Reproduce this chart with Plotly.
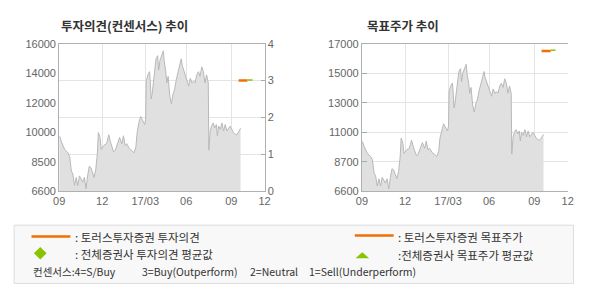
import plotly.graph_objects as go

W, H = 590, 300

# ---- data (trading-day index vs close price) ----
day_idx = [0, 1, 3.4, 8, 12.7, 15.1, 17.5, 19.7, 22.1, 24.5, 26.8, 29.2, 31.6, 33.8, 36.2, 38.6,
           40.9, 43.3, 45.7, 47.9, 50.3, 52.7, 55, 56.4, 58.8, 60.6, 64.4, 68.2, 71.5, 73.9, 78.5,
           80.9, 84.1, 87, 90.2, 92.6, 95, 97.3, 101.1, 104.3, 107.7, 110.5, 112.3, 115.2, 117.5,
           120.8, 123.2, 124.6, 125.4, 127.8, 130.2, 131.1, 132.5, 133.9, 135.9, 138.1, 139.5, 141.9,
           143.3, 145.2, 148, 150, 151.4, 153.6, 155, 157, 159.3, 161.6, 164.1, 166.3, 168.7,
           171.1, 173.4, 175.8, 177.2, 179.6, 181.8, 184.2, 186.6, 188.9, 191.3, 193.7, 195.9,
           198.3, 200.7, 203, 205.4, 207.8, 210, 212.4, 214.8, 215.6, 217.6, 219.5, 221.8, 224.1,
           226.5, 227.9, 229.7, 232.1, 234.5, 236.8, 239.2, 241.6, 243.8, 246.2, 248.6, 250.9,
           253.3, 255.7, 257.9, 260.3, 261.3]
price = [10080, 10080, 9730, 9260, 9050, 8810, 7890, 7690, 6970, 7480, 6970, 7580, 7380, 7180, 7480, 6770,
         7580, 8190, 8100, 7790, 7480, 7990, 9010, 10340, 10030, 9260, 9520, 9630, 10200, 9730, 9110,
         9220, 9730, 10030, 9630, 10140, 9520, 9630, 9320, 9220, 9050, 9420, 10340, 11060, 11360,
         11060, 10850, 11200, 13610, 14020, 14220, 13710, 12480, 12790, 13510, 14320, 15040, 15240,
         14320, 14930, 15350, 15550, 14840, 14220, 13510, 13920, 12690, 12180, 12790, 13100, 13710,
         14220, 14730, 15040, 14630, 14320, 13920, 13710, 13300, 13810, 13510, 13610, 13510,
         14020, 14220, 13920, 14530, 14220, 13510, 14020, 13510, 9220, 10440, 10750, 10950, 10640,
         10850, 10140, 10750, 10550, 10950, 10440, 10850, 10440, 10640, 10750, 10550, 10340,
         10240, 10200, 10340, 10610, 10610]

# consensus opinion (3 = Buy) and target price
opinion_x = [258.5, 271.2]
opinion_y = [3, 3]
opinion_avg_x = [271.2, 278.6]
opinion_avg_y = [3.02, 3.02]
target_x = [258.5, 271.6]
target_y = [16480, 16480]
target_avg_x = [271.6, 278.6]
target_avg_y = [16540, 16540]

x_tickvals = [0, 62, 124, 183, 248, 296]
x_ticktext = ['09', '12', '17/03', '06', '09', '12']
left_price_tickvals = [6600, 8480, 10360, 12240, 14120, 16000]
left_price_ticktext = ['6600', '8500', '10000', '12000', '14000', '16000']
right_price_tickvals = [6600, 8680, 10760, 12840, 14920, 17000]
right_price_ticktext = ['6600', '8700', '11000', '13000', '15000', '17000']

ORANGE = '#f07000'
GREEN = '#88c400'
FILL = '#e0e0e0'
LINE = '#b8b8b8'
GRID = '#e4e4e4'
AXIS = '#b0b0b0'
TXT = '#666666'
FONT = 'Liberation Sans, Arial, sans-serif'
KFONT = 'Noto Sans CJK KR'

def px(x):
    return x / W

def py(y):
    return 1 - y / H

fig = go.Figure()

# left chart
fig.add_trace(go.Scatter(x=day_idx, y=price, xaxis='x', yaxis='y', mode='lines',
                         line=dict(color=LINE, width=1), fill='tozeroy', fillcolor=FILL,
                         showlegend=False, hoverinfo='skip'))
fig.add_trace(go.Scatter(x=opinion_x, y=opinion_y, xaxis='x', yaxis='y2', mode='lines',
                         line=dict(color=ORANGE, width=2.5), showlegend=False))
fig.add_trace(go.Scatter(x=opinion_avg_x, y=opinion_avg_y, xaxis='x', yaxis='y2', mode='lines',
                         line=dict(color=GREEN, width=1.5), showlegend=False))
# right chart
fig.add_trace(go.Scatter(x=day_idx, y=price, xaxis='x2', yaxis='y3', mode='lines',
                         line=dict(color=LINE, width=1), fill='tozeroy', fillcolor=FILL,
                         showlegend=False, hoverinfo='skip'))
fig.add_trace(go.Scatter(x=target_x, y=target_y, xaxis='x2', yaxis='y3', mode='lines',
                         line=dict(color=ORANGE, width=2.5), showlegend=False))
fig.add_trace(go.Scatter(x=target_avg_x, y=target_avg_y, xaxis='x2', yaxis='y3', mode='lines',
                         line=dict(color=GREEN, width=1.5), showlegend=False))

ydom = [py(193), py(39.3)]
tickfont = dict(family=FONT, size=11, color=TXT)

xcommon = dict(range=[0, 296], tickmode='array', tickvals=x_tickvals, ticktext=x_ticktext,
               showgrid=True, gridcolor=GRID, gridwidth=1, showline=True, linecolor=AXIS,
               mirror=True, ticks='', tickfont=tickfont, zeroline=False, fixedrange=True)

fig.update_layout(
    width=W, height=H, margin=dict(l=0, r=0, t=0, b=0),
    paper_bgcolor='white', plot_bgcolor='white', showlegend=False,
    xaxis=dict(domain=[px(54.3), px(264)], anchor='y', **xcommon),
    xaxis2=dict(domain=[px(363.3), px(573.3)], anchor='y3', **xcommon),
    yaxis=dict(domain=ydom, anchor='x', range=[6600, 16000], tickmode='array',
               tickvals=left_price_tickvals, ticktext=left_price_ticktext, showgrid=False,
               showline=True, linecolor=AXIS, zeroline=False, tickfont=tickfont, ticks=''),
    yaxis2=dict(domain=ydom, anchor='x', overlaying='y', side='right', range=[0, 4],
                tickmode='array', tickvals=[0, 1, 2, 3, 4], showgrid=True, gridcolor=GRID,
                showline=True, linecolor=AXIS, zeroline=False, tickfont=tickfont,
                ticks='inside', ticklen=4, tickcolor='#aaaaaa'),
    yaxis3=dict(domain=ydom, anchor='x2', range=[6600, 17000], tickmode='array',
                tickvals=right_price_tickvals, ticktext=right_price_ticktext, showgrid=True,
                gridcolor=GRID, showline=True, linecolor=AXIS, zeroline=False,
                tickfont=tickfont, ticks='inside', ticklen=5, tickcolor='#aaaaaa'),
)

shapes = []
ann = []
# titles
ann.append(dict(x=px(54.3), y=py(20.7), xref='paper', yref='paper', xanchor='left', yanchor='middle',
                text='<b>투자의견(컨센서스) 추이</b>', showarrow=False,
                font=dict(family=KFONT, size=12.5, color='#333333')))
ann.append(dict(x=px(366.7), y=py(20.7), xref='paper', yref='paper', xanchor='left', yanchor='middle',
                text='<b>목표주가 추이</b>', showarrow=False,
                font=dict(family=KFONT, size=12.5, color='#333333')))

# legend box
shapes.append(dict(type='rect', xref='paper', yref='paper', x0=px(8.3), x1=px(579.3),
                   y0=py(289), y1=py(228.3), fillcolor='#f8f8f8', line=dict(color='#dddddd', width=1),
                   layer='below'))
shapes.append(dict(type='line', xref='paper', yref='paper', x0=px(26), x1=px(65.7),
                   y0=py(240), y1=py(240), line=dict(color=ORANGE, width=2.5)))
shapes.append(dict(type='line', xref='paper', yref='paper', x0=px(356), x1=px(395.7),
                   y0=py(239), y1=py(239), line=dict(color=ORANGE, width=2.5)))
# green diamond
cx, cy, r = 35, 257.5, 6.5
shapes.append(dict(type='path', xref='paper', yref='paper',
                   path=f'M {px(cx)},{py(cy - r)} L {px(cx + r)},{py(cy)} L {px(cx)},{py(cy + r)} L {px(cx - r)},{py(cy)} Z',
                   fillcolor=GREEN, line=dict(width=0)))
# green triangle
shapes.append(dict(type='path', xref='paper', yref='paper',
                   path=f'M {px(363.7)},{py(256.5)} L {px(370.7)},{py(262.7)} L {px(356.7)},{py(262.7)} Z',
                   fillcolor=GREEN, line=dict(width=0)))

lfont = dict(family=KFONT, size=11.5, color='#333333')
sfont = dict(family=KFONT, size=10.5, color='#333333')
for x, y, t, f in [
    (68.3, 241, ': 토러스투자증권 투자의견', lfont),
    (68.3, 258.5, ': 전체증권사 투자의견 평균값', lfont),
    (397.7, 240.5, ': 토러스투자증권 목표주가', lfont),
    (397.7, 259.5, ':전체증권사 목표주가 평균값', lfont),
    (26, 277, '컨센서스:4=S/Buy', sfont),
    (136.7, 277, '3=Buy(Outperform)', sfont),
    (246.7, 277, '2=Neutral', sfont),
    (307, 277, '1=Sell(Underperform)', sfont),
]:
    ann.append(dict(x=px(x), y=py(y), xref='paper', yref='paper', xanchor='left', yanchor='middle',
                    text=t, showarrow=False, font=f))

fig.update_layout(shapes=shapes, annotations=ann)
fig.write_html('out.html')
